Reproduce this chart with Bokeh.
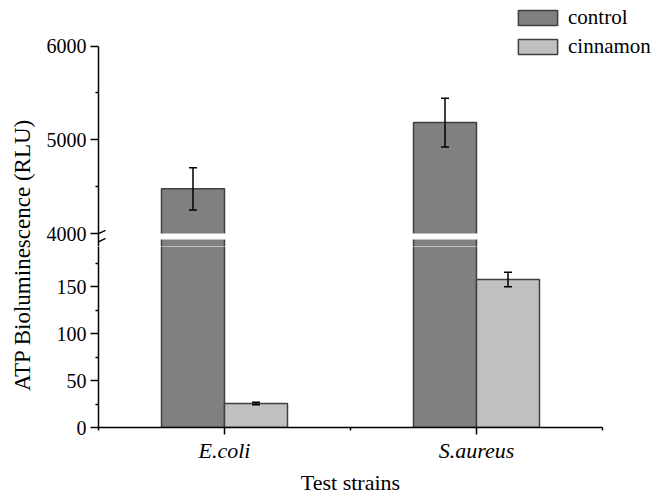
import math
from bokeh.plotting import figure
from bokeh.layouts import row, column
from bokeh.models import (ColumnDataSource, FixedTicker, Legend, LegendItem,
                          Whisker, TeeHead, Range1d)
from bokeh.embed import file_html
from bokeh.resources import INLINE
from bokeh.core.properties import value

# ---- data ----
strains = ["E.coli", "S.aureus"]
positions = [1, 2]
control = [4477, 5183]
control_err = [225, 261]
cinnamon = [25.5, 157.5]
cinnamon_err = [1.3, 7.7]

upper_ticks = [4000, 5000, 6000]
upper_minor = [4500, 5500]
lower_ticks = [0, 50, 100, 150]
lower_minor = [25, 75, 125, 175]
x_minor = [0.5, 1.5, 2.5]

BAR_W = 0.25
FONT = "Liberation Serif"
C_CONTROL = "#808080"
C_CINN = "#c0c0c0"
C_EDGE = "#404040"

# ---- layout constants (pixels) ----
FRAME_W = 504            # lower frame width for x range 0.5 .. 2.5
PX_PER_X = FRAME_W / 2.0
EXTRA_R = 54             # room right of the upper panel for the legend
UP_PX_PER_UNIT = 0.09375  # upper segment: px per RLU
LO_PX_PER_UNIT = 0.94     # lower segment: px per RLU
TOP_PAD_PX = 8
UP_TOP = 6400 + TOP_PAD_PX / UP_PX_PER_UNIT
BREAK = 4000
GAP_PX = 6               # white break across the bars
BELOW_BREAK_PX = 13      # upper panel continues below the break value
UP_FRAME_H = round((6400 - BREAK) * UP_PX_PER_UNIT) + BELOW_BREAK_PX + TOP_PAD_PX
UP_BOTTOM = BREAK - BELOW_BREAK_PX / UP_PX_PER_UNIT
LO_FRAME_H = 181
LO_TOP = LO_FRAME_H / LO_PX_PER_UNIT

src = ColumnDataSource(dict(
    x=positions,
    left_c=[p - BAR_W for p in positions],
    right_c=positions,
    left_n=positions,
    right_n=[p + BAR_W for p in positions],
    xc=[p - BAR_W / 2 for p in positions],
    xn=[p + BAR_W / 2 for p in positions],
    zero=[0] * len(positions),
    control=control,
    cinnamon=cinnamon,
    c_up=[v + e for v, e in zip(control, control_err)],
    c_lo=[v - e for v, e in zip(control, control_err)],
    n_up=[v + e for v, e in zip(cinnamon, cinnamon_err)],
    n_lo=[v - e for v, e in zip(cinnamon, cinnamon_err)],
))

xr = Range1d(0.5, 2.5)
xr_up = Range1d(0.5, 2.5 + EXTRA_R / PX_PER_X)


def style_y(ax, ticks, minor, bounds):
    ax.ticker = FixedTicker(ticks=ticks, minor_ticks=minor)
    ax.bounds = bounds
    ax.axis_line_width = 1.5
    ax.axis_line_color = "black"
    ax.major_tick_line_width = 1.5
    ax.minor_tick_line_width = 1.5
    ax.major_tick_out = 8
    ax.major_tick_in = 0
    ax.minor_tick_out = 3
    ax.minor_tick_in = 0
    ax.major_label_text_font = FONT
    ax.major_label_text_font_size = "20px"
    ax.major_label_text_color = "black"
    ax.major_label_standoff = 4


def whisker(fig, base, up, lo):
    w = Whisker(base=base, upper=up, lower=lo, source=src, level="overlay",
                line_width=1.5, line_color="black",
                upper_head=TeeHead(size=8, line_width=1.5, line_color="black"),
                lower_head=TeeHead(size=8, line_width=1.5, line_color="black"))
    fig.add_layout(w)


# ---- upper segment ----
up = figure(frame_width=FRAME_W + EXTRA_R, frame_height=UP_FRAME_H, x_range=xr_up,
            y_range=Range1d(UP_BOTTOM, UP_TOP),
            min_border_left=56, min_border_right=0,
            min_border_top=0, min_border_bottom=0,
            x_axis_location=None, toolbar_location=None,
            output_backend="svg")
up.outline_line_color = None
up.grid.visible = False
style_y(up.yaxis[0], upper_ticks, upper_minor, (UP_BOTTOM, 6000))

rc = up.quad(left="left_c", right="right_c", bottom="zero", top="control",
             fill_color=C_CONTROL, line_color=C_EDGE, line_width=1.5, source=src)
rn = up.quad(left="left_n", right="right_n", bottom="zero", top="cinnamon",
             fill_color=C_CINN, line_color=C_EDGE, line_width=1.5, source=src)

# white break band across the bars
gap_lo = BREAK - GAP_PX / UP_PX_PER_UNIT
up.quad(left=[xr_up.start], right=[xr_up.end], bottom=[gap_lo], top=[BREAK],
        fill_color="white", line_color=None)

# visible halves of the axis-break marks (right of the axis)
dx = 7 / PX_PER_X
up.segment(x0=[0.5, 0.5], x1=[0.5 + dx, 0.5 + dx],
           y0=[BREAK - 0.1 / UP_PX_PER_UNIT, BREAK - 8.3 / UP_PX_PER_UNIT],
           y1=[BREAK + 3.1 / UP_PX_PER_UNIT, BREAK - 4.8 / UP_PX_PER_UNIT],
           line_color="black", line_width=1.5)

whisker(up, "xc", "c_up", "c_lo")

legend = Legend(items=[LegendItem(label="control", renderers=[rc]),
                       LegendItem(label="cinnamon", renderers=[rn])],
                location=(415, 187),
                label_text_font=FONT, label_text_font_size="21px",
                label_text_color="black",
                glyph_width=49, glyph_height=19, label_height=19,
                spacing=4, padding=0, margin=0, label_standoff=6,
                border_line_color=None, background_fill_alpha=0)
up.add_layout(legend)

# ---- lower segment ----
lo = figure(frame_width=FRAME_W, frame_height=LO_FRAME_H, x_range=xr,
            y_range=Range1d(0, LO_TOP),
            min_border_left=56, min_border_right=EXTRA_R,
            min_border_top=0, min_border_bottom=66,
            toolbar_location=None, output_backend="svg")
lo.outline_line_color = None
lo.grid.visible = False
style_y(lo.yaxis[0], lower_ticks, lower_minor, (0, LO_TOP))

lo.quad(left="left_c", right="right_c", bottom="zero", top="control",
        fill_color=C_CONTROL, line_color=C_EDGE, line_width=1.5, source=src)
lo.quad(left="left_n", right="right_n", bottom="zero", top="cinnamon",
        fill_color=C_CINN, line_color=C_EDGE, line_width=1.5, source=src)
whisker(lo, "xn", "n_up", "n_lo")

xa = lo.xaxis[0]
xa.ticker = FixedTicker(ticks=positions, minor_ticks=x_minor)
xa.major_label_overrides = {p: s for p, s in zip(positions, strains)}
xa.axis_line_width = 1.5
xa.axis_line_color = "black"
xa.major_tick_line_width = 1.5
xa.minor_tick_line_width = 1.5
xa.major_tick_out = 7
xa.major_tick_in = 0
xa.minor_tick_out = 3
xa.minor_tick_in = 0
xa.major_label_text_font = FONT
xa.major_label_text_font_style = "italic"
xa.major_label_text_font_size = "22px"
xa.major_label_text_color = "black"
xa.major_label_standoff = 3
xa.axis_label = "Test strains"
xa.axis_label_text_font = FONT
xa.axis_label_text_font_style = "normal"
xa.axis_label_text_font_size = "22px"
xa.axis_label_text_color = "black"
xa.axis_label_standoff = 4

# ---- shared y-axis title ----
lab = figure(width=42, height=493, x_range=Range1d(0, 42), y_range=Range1d(0, 493),
             min_border=0, x_axis_location=None, y_axis_location=None,
             toolbar_location=None, output_backend="svg")
lab.outline_line_color = None
lab.grid.visible = False
lab.text(x=[21.5], y=[238.5], text=["ATP Bioluminescence (RLU)"], angle=math.pi / 2,
         text_align="center", text_baseline="middle",
         text_font=value(FONT), text_font_size="23px", text_color="black")

layout = row(lab, column(up, lo, spacing=0), spacing=0)

open("out.html", "w").write(file_html(layout, INLINE))
